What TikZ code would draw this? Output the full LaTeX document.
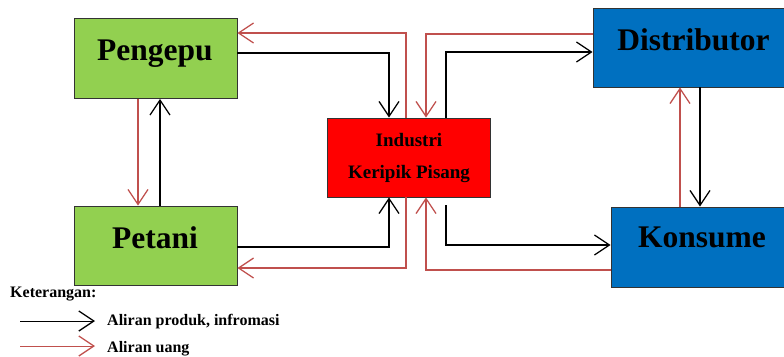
\documentclass[tikz,border=0pt]{standalone}
\usepackage{fontspec}
\setmainfont{Liberation Serif}
\usetikzlibrary{arrows.meta}

\definecolor{hijau}{HTML}{92D050}
\definecolor{biru}{HTML}{0070C0}
\definecolor{merah}{HTML}{FF0000}
\definecolor{uangmerah}{HTML}{C0504D}

\tikzset{
	box/.style = {draw=black!80, line width=0.8pt, inner sep=0pt},
	judul/.style = {font=\fontsize{31.5}{32}\selectfont\bfseries, inner sep=0pt, anchor=base},
	kecil/.style = {font=\fontsize{19}{19}\selectfont\bfseries, inner sep=0pt, anchor=base},
	ket/.style = {font=\fontsize{16}{16}\selectfont\bfseries, inner sep=0pt, anchor=base west},
	panah/.style = {-{Straight Barb[length=15pt,width=20pt,line width=1.3pt]}, line width=1.3pt},
	produk/.style = {panah, black},
	uang/.style = {panah, uangmerah},
}

\begin{document}
\begin{tikzpicture}[x=1pt, y=-1pt]
	\useasboundingbox (0,0) rectangle (784,356);

	% kotak
	\node [box, fill=hijau, minimum width=163pt, minimum height=80pt] (pengepu) at (155.5,58.5) {};
	\node [box, fill=hijau, minimum width=163pt, minimum height=79pt] (petani) at (155.5,245.5) {};
	\node [box, fill=merah, minimum width=163pt, minimum height=79pt] (industri) at (408.5,157.5) {};
	\node [box, fill=biru, minimum width=193pt, minimum height=79pt] (distributor) at (689.5,47.5) {};
	\node [box, fill=biru, minimum width=175pt, minimum height=80pt] (konsume) at (698.5,247) {};

	% tulisan
	\node [judul] (pengepu-t) at (155,60) {Pengepu};
	\node [judul] (petani-t) at (155,248) {Petani};
	\node [judul] (distributor-t) at (693.5,50) {Distributor};
	\node [judul] (konsume-t) at (702,247) {Konsume};
	\node [kecil] (industri-t1) at (409,146) {Industri};
	\node [kecil] (industri-t2) at (409,178) {Keripik Pisang};

	% aliran atas
	\draw [produk] (pengepu.east |- 0,53) -| (industri.north -| 389,0);
	\draw [uang] (industri.north -| 406,0) |- (pengepu.east |- 0,33);
	\draw [uang] (distributor.west |- 0,34) -| (industri.north -| 426,0);
	\draw [produk] (industri.north -| 446,0) |- (distributor.west |- 0,52);

	% aliran bawah
	\draw [produk] (petani.east |- 0,247) -| (industri.south -| 389,0);
	\draw [uang] (industri.south -| 406,0) |- (petani.east |- 0,268);
	\draw [uang] (konsume.west |- 0,270) -| (industri.south -| 426,0);
	\draw [produk, shorten <=8pt] (industri.south -| 446,0) |- (konsume.west |- 0,245);

	% aliran tegak
	\draw [uang] (pengepu.south -| 138,0) -- (petani.north -| 138,0);
	\draw [produk] (petani.north -| 160,0) -- (pengepu.south -| 160,0);
	\draw [uang] (konsume.north -| 680,0) -- (distributor.south -| 680,0);
	\draw [produk] (distributor.south -| 700,0) -- (konsume.north -| 700,0);

	% keterangan
	\node [ket] (keterangan) at (10,297) {Keterangan:};
	\coordinate (k1a) at (20,321);
	\coordinate (k1b) at (95,321);
	\coordinate (k2a) at (20,346);
	\coordinate (k2b) at (95,346);
	\draw [produk, line width=0.8pt] (k1a) -- (k1b);
	\draw [uang, line width=0.8pt] (k2a) -- (k2b);
	\node [ket] (ket-produk) at (107,325) {Aliran produk, infromasi};
	\node [ket] (ket-uang) at (107,352) {Aliran uang};
\end{tikzpicture}
\end{document}
